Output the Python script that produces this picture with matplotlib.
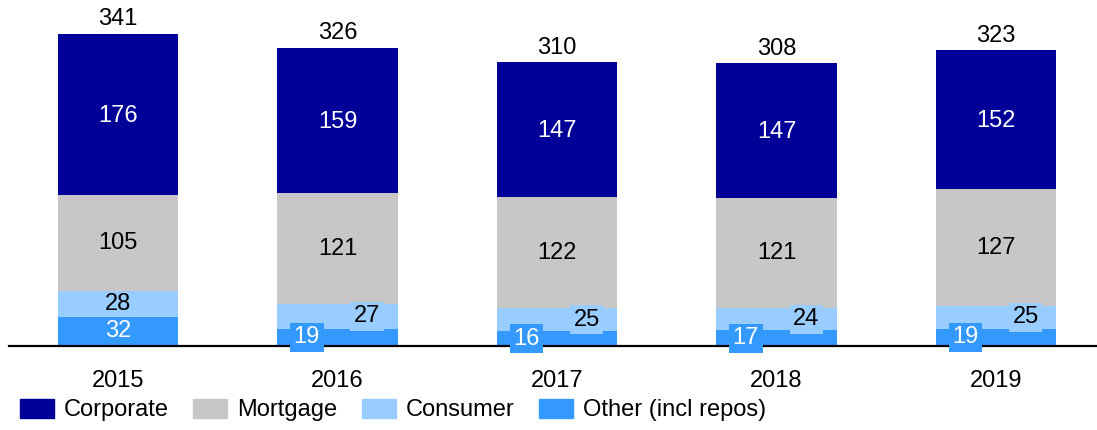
import matplotlib.pyplot as plt
from matplotlib.patches import Patch

plt.rcParams['font.family'] = ['Liberation Sans', 'DejaVu Sans']

years = ['2015', '2016', '2017', '2018', '2019']
corporate = [176, 159, 147, 147, 152]
mortgage = [105, 121, 122, 121, 127]
consumer = [28, 27, 25, 24, 25]
other = [32, 19, 16, 17, 19]
totals = [341, 326, 310, 308, 323]

c_corp = '#000099'
c_mort = '#C8C6C6'
c_cons = '#99CCFF'
c_other = '#3399FF'

fig = plt.figure(figsize=(10.97, 4.30), dpi=100)
ax = fig.add_axes([9 / 1097, 84 / 430, 1088 / 1097, 346 / 430])

x = list(range(len(years)))
w = 0.55
b1 = other
b2 = [a + b for a, b in zip(b1, consumer)]
b3 = [a + b for a, b in zip(b2, mortgage)]
ax.bar(x, other, w, color=c_other)
ax.bar(x, consumer, w, bottom=b1, color=c_cons)
ax.bar(x, mortgage, w, bottom=b2, color=c_mort)
ax.bar(x, corporate, w, bottom=b3, color=c_corp)

fs = 17
for i in x:
    ax.text(i, b3[i] + corporate[i] / 2 - 1.5, str(corporate[i]), ha='center', va='center',
            color='white', fontsize=fs)
    ax.text(i, b2[i] + mortgage[i] / 2, str(mortgage[i]), ha='center', va='center',
            color='black', fontsize=fs)
    ax.text(i, totals[i] + 16, str(totals[i]), ha='center', va='center',
            color='black', fontsize=fs)
    if i == 0:
        ax.text(i, b1[i] + consumer[i] / 2, str(consumer[i]), ha='center', va='center',
                color='black', fontsize=fs)
        ax.text(i, other[i] / 2, str(other[i]), ha='center', va='center',
                color='white', fontsize=fs)
    else:
        ax.text(i + 0.135, b1[i] + consumer[i] / 2, str(consumer[i]), ha='center', va='center',
                color='black', fontsize=fs,
                bbox=dict(boxstyle='square,pad=0.15', fc=c_cons, ec='none'))
        ax.text(i - 0.14, other[i] / 2, str(other[i]), ha='center', va='center',
                color='white', fontsize=fs,
                bbox=dict(boxstyle='square,pad=0.15', fc=c_other, ec='none'))

ax.set_xlim(-0.497, 4.46)
ax.set_ylim(0, 378)
for s in ['top', 'right', 'left']:
    ax.spines[s].set_visible(False)
ax.spines['bottom'].set_linewidth(1.6)
ax.set_yticks([])
ax.set_xticks(x)
ax.set_xticklabels(years, fontsize=fs)
ax.tick_params(axis='x', length=0, pad=17)

handles = [Patch(color=c_corp), Patch(color=c_mort), Patch(color=c_cons), Patch(color=c_other)]
labels = ['Corporate', 'Mortgage', 'Consumer', 'Other (incl repos)']
fig.legend(handles, labels, loc='center left', bbox_to_anchor=(20 / 1097, 20 / 430), ncol=4,
           frameon=False, fontsize=fs, handlelength=1.45, handleheight=0.85,
           handletextpad=0.42, columnspacing=1.02, borderaxespad=0, borderpad=0)

fig.savefig('out.png', dpi=100)
